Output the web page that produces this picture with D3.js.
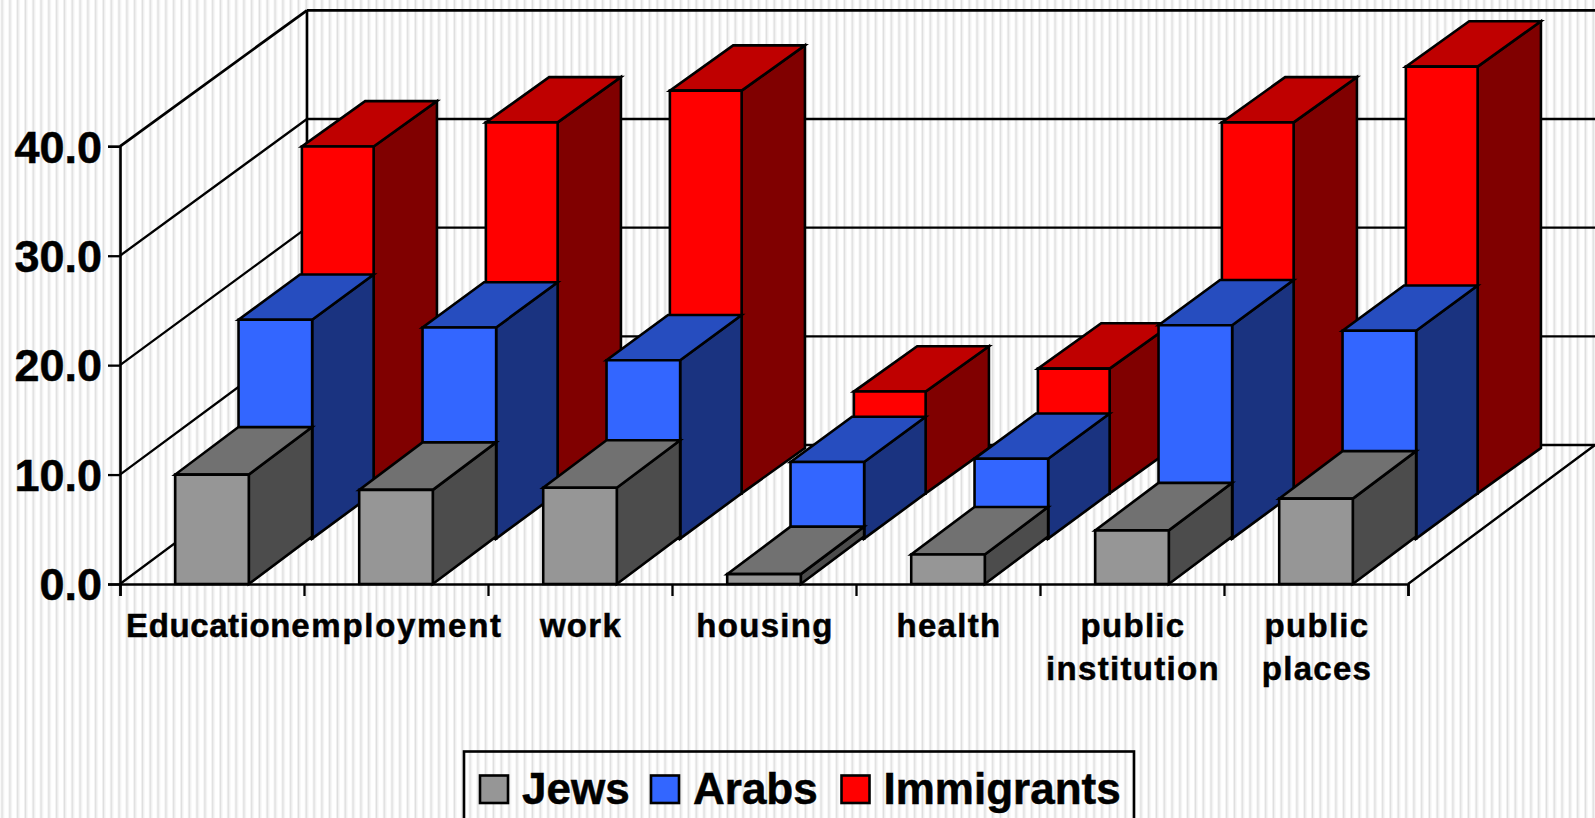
<!DOCTYPE html>
<html>
<head>
<meta charset="utf-8">
<script src="https://cdn.jsdelivr.net/npm/d3@7/dist/d3.min.js"></script>
<style>
  html, body { margin: 0; padding: 0; background: #fff; overflow: hidden; }
  svg { display: block; }
  text { font-family: "Liberation Sans", Arial, sans-serif; font-weight: bold; fill: #000; stroke: #000; stroke-width: 0.5px; }
</style>
</head>
<body>
<svg id="chart" width="1595" height="818"></svg>
<script>
// Survey results by life domain and population group
const categories = ["Education", "employment", "work", "housing", "health", "public institution", "public places"];
const seriesNames = ["Jews", "Arabs", "Immigrants"];
const jews = [10.0, 8.6, 8.8, 0.9, 2.7, 4.9, 7.8];
const arabs = [20.0, 19.3, 16.3, 7.0, 7.3, 19.5, 19.0];
const immigrants = [31.7, 33.9, 36.8, 9.3, 11.4, 33.9, 39.0];
const yTicks = [0, 10, 20, 30, 40];

const seriesValues = [jews, arabs, immigrants];
const faceColors = [
  { front: "#969696", top: "#717171", side: "#4c4c4c" },
  { front: "#3366ff", top: "#264dbf", side: "#1a3380" },
  { front: "#ff0000", top: "#bf0000", side: "#800000" }
];

const svg = d3.select("#chart");
const W = 1595, H = 818;

// Oblique projection: a point at depth d is shifted right and up
const floorFront = 584, floorBack = 445, depthX = 187, depthY = 139;
const x = d3.scaleBand().domain(categories).range([120, 1408]).paddingInner(0.6).paddingOuter(0.3);
const y = d3.scaleLinear().domain([0, 40]).range([floorFront, 146.3]);
const yBack = d3.scaleLinear().domain([0, 40]).range([floorBack, 10.3]);
const xEdges = d3.scaleLinear().domain([0, categories.length]).range([120, 1408]);
const rowDX = d3.scaleBand().domain(seriesNames).range([0, 190]);
const rowDY = d3.scaleBand().domain(seriesNames).range([0, 136]);

// Fine vertical pinstripe backdrop
const defs = svg.append("defs");
const stripe = defs.append("pattern").attr("id", "pinstripe")
  .attr("patternUnits", "userSpaceOnUse").attr("width", 7.8).attr("height", 8)
  .attr("patternTransform", "translate(0.6,0)");
stripe.append("rect").attr("width", 7.8).attr("height", 8).attr("fill", "#fff");
stripe.append("rect").attr("x", 0).attr("width", 1).attr("height", 8).attr("fill", "#f0f0f0");
stripe.append("rect").attr("x", 1).attr("width", 1.4).attr("height", 8).attr("fill", "#dedede");
stripe.append("rect").attr("x", 2.4).attr("width", 1).attr("height", 8).attr("fill", "#efefef");
svg.append("rect").attr("width", W).attr("height", H).attr("fill", "url(#pinstripe)");

// Chart box: walls, floor and gridlines
const frame = svg.append("g").attr("fill", "none").attr("stroke", "#000");
const backLeft = 120 + depthX;
frame.append("line").attr("x1", backLeft).attr("x2", backLeft)
  .attr("y1", yBack(40)).attr("y2", yBack(0)).attr("stroke-width", 2.6);
frame.selectAll(".grid").data(yTicks).join("line").attr("class", "grid")
  .attr("x1", backLeft).attr("x2", W).attr("y1", d => yBack(d)).attr("y2", d => yBack(d))
  .attr("stroke-width", d => d === 40 ? 2.8 : 2.3);
frame.selectAll(".wall").data(yTicks).join("line").attr("class", "wall")
  .attr("x1", 120).attr("x2", backLeft).attr("y1", d => y(d)).attr("y2", d => yBack(d))
  .attr("stroke-width", d => d === 40 ? 2.8 : 2.3);
frame.append("line").attr("x1", 1408).attr("x2", 1408 + depthX)
  .attr("y1", floorFront).attr("y2", floorBack).attr("stroke-width", 2.4);

// Boxes drawn from the rear row forward so nearer ones overlap farther ones
const pts = p => p.map(q => q.join(",")).join(" ");
const bars = svg.append("g").attr("stroke", "#000").attr("stroke-width", 2.6).attr("stroke-linejoin", "miter");
const rowWidth = [1, 1, 0.975];    // rear boxes read slightly narrower
const cellDepthX = [63.3, 61.5, 63.3];
const cellDepthY = [47.5, 45.3, 45.3];
[2, 1, 0].forEach(s => {
  const name = seriesNames[s];
  const row = bars.append("g").attr("class", "row-" + name);
  const ox = rowDX(name), oy = rowDY(name);
  const cellDX = cellDepthX[s], cellDY = cellDepthY[s];
  const boxes = row.selectAll("g").data(categories.map((c, i) => ({
    c,
    left: x(c) + ox,
    right: x(c) + x.bandwidth() * rowWidth[s] + ox,
    base: floorFront - oy,
    top: y(seriesValues[s][i]) - oy
  }))).join("g");
  boxes.append("polygon").attr("fill", faceColors[s].side).attr("points", d => pts([
    [d.right, d.base], [d.right + cellDX, d.base - cellDY], [d.right + cellDX, d.top - cellDY], [d.right, d.top]
  ]));
  boxes.append("polygon").attr("fill", faceColors[s].top).attr("points", d => pts([
    [d.left, d.top], [d.right, d.top], [d.right + cellDX, d.top - cellDY], [d.left + cellDX, d.top - cellDY]
  ]));
  boxes.append("polygon").attr("fill", faceColors[s].front).attr("points", d => pts([
    [d.left, d.base], [d.right, d.base], [d.right, d.top], [d.left, d.top]
  ]));
});

// Value axis
const yAxis = d3.axisLeft(y).tickValues(yTicks).tickSize(12).tickPadding(6).tickFormat(d3.format(".1f"));
const gy = svg.append("g").attr("transform", "translate(120,0)").call(yAxis);
gy.select(".domain").attr("stroke", "#000").attr("stroke-width", 2.6);
gy.selectAll(".tick line").attr("stroke", "#000").attr("stroke-width", 2.3);
gy.selectAll("text").attr("font-size", 45).attr("dy", "0.35em").attr("x", -18);

// Category axis: the floor front edge, boundary ticks and wrapped labels
const edges = d3.range(categories.length + 1);
const xAxisLine = svg.append("g").attr("transform", `translate(0,${floorFront})`)
  .call(d3.axisBottom(xEdges).tickValues(edges).tickSize(12).tickFormat(""));
xAxisLine.select(".domain").attr("stroke", "#000").attr("stroke-width", 2.6);
xAxisLine.selectAll(".tick line").attr("stroke", "#000").attr("stroke-width", 2.3);

// The two long neighbouring labels get their own spacing so they sit side by side
const labelFit = { Education: { dx: -3.5, spacing: 0.6 }, employment: { dx: 1, spacing: 1.7 } };
const labels = svg.append("g").attr("text-anchor", "middle").attr("font-size", 33);
categories.forEach(c => {
  const fit = labelFit[c] || { dx: 1, spacing: 1.3 };
  const cx = x(c) + x.bandwidth() / 2 + fit.dx;
  const t = labels.append("text").attr("x", cx).attr("y", 637).attr("letter-spacing", fit.spacing);
  const words = c.startsWith("public") ? c.split(" ") : [c];
  words.forEach((w, k) => t.append("tspan").attr("x", cx).attr("y", 637 + k * 42.6).text(w));
});

// Legend
const legend = svg.append("g");
legend.append("rect").attr("x", 464).attr("y", 751.5).attr("width", 670).attr("height", 90)
  .attr("fill", "url(#pinstripe)").attr("stroke", "#000").attr("stroke-width", 2.6);
const swatchX = d3.scaleOrdinal().domain(seriesNames).range([480, 651, 841.5]);
const entries = legend.selectAll(".entry").data(seriesNames).join("g").attr("class", "entry");
entries.append("rect").attr("x", d => swatchX(d)).attr("y", 775.5).attr("width", 28).attr("height", 27.5)
  .attr("fill", (d, i) => faceColors[i].front).attr("stroke", "#000").attr("stroke-width", 2.6);
entries.append("text").attr("x", d => swatchX(d) + 42).attr("y", 804).attr("font-size", 44).text(d => d);
</script>
</body>
</html>
